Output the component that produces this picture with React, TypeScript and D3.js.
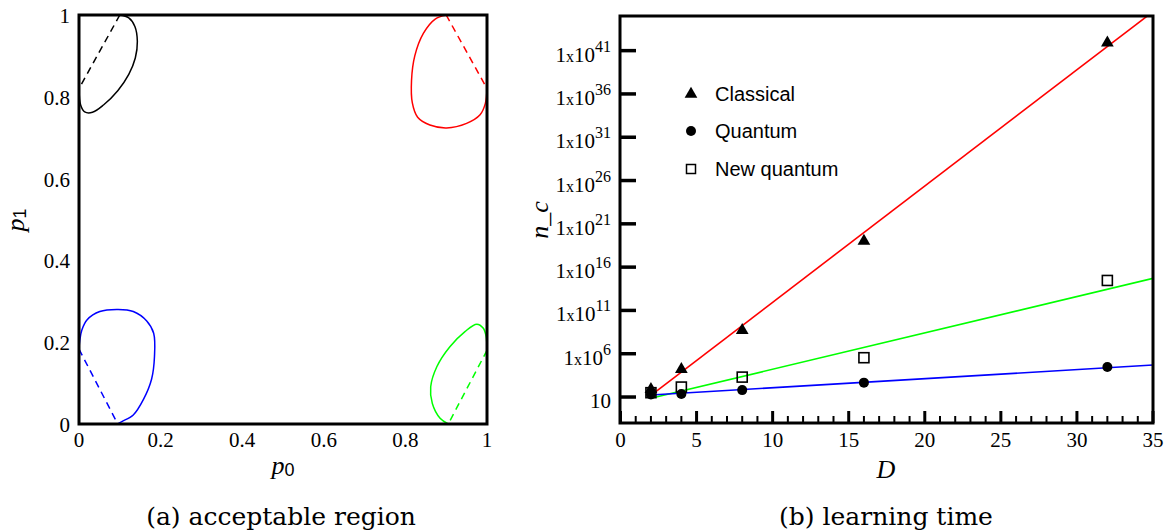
import React, { useEffect, useRef } from "react";
import * as d3 from "d3";

// left panel: acceptable region contours, (p0, p1)
const blackSolid = [[0.1, 1], [0.122, 0.993], [0.137, 0.972], [0.143, 0.935], [0.138, 0.895], [0.122, 0.855], [0.095, 0.815], [0.06, 0.78], [0.033, 0.762], [0.014, 0.763], [0.004, 0.78], [0, 0.82]];
const blackDash = [[0.1, 1], [0, 0.82]];
const redSolid = [[0.9, 1], [0.873, 0.99], [0.844, 0.955], [0.823, 0.9], [0.815, 0.84], [0.817, 0.785], [0.83, 0.75], [0.86, 0.731], [0.901, 0.724], [0.95, 0.735], [0.983, 0.756], [0.996, 0.784], [1, 0.82]];
const redDash = [[0.9, 1], [1, 0.82]];
const blueSolid = [[0.095, 0], [0.105, 0.006], [0.133, 0.022], [0.158, 0.06], [0.178, 0.11], [0.185, 0.165], [0.183, 0.222], [0.166, 0.252], [0.133, 0.275], [0.096, 0.28], [0.051, 0.275], [0.02, 0.255], [0.007, 0.23], [0.002, 0.205], [0, 0.183]];
const blueDash = [[0, 0.183], [0.095, 0]];
const greenSolid = [[0.905, 0], [0.885, 0.014], [0.866, 0.05], [0.862, 0.091], [0.877, 0.14], [0.909, 0.189], [0.946, 0.226], [0.975, 0.244], [0.991, 0.234], [0.998, 0.213], [1, 0.18]];
const greenDash = [[1, 0.18], [0.905, 0]];

const pTicks = [0, 0.2, 0.4, 0.6, 0.8, 1];

// right panel: learning time (log10 of n_c)
const dims = [2, 4, 8, 16, 32];
const classical = [1.9, 4.2, 8.7, 19.0, 41.9];
const quantum = [1.3, 1.35, 1.8, 2.66, 4.46];
const newQuantum = [1.5, 2.15, 3.3, 5.54, 14.46];
const fitD = [2, 35];
const classicalFit = [1.2, 45.5];
const newQuantumFit = [0.85, 14.7];
const quantumFit = [1.23, 4.69];
const yTickExp = [1, 6, 11, 16, 21, 26, 31, 36, 41];
const dTicks = d3.range(0, 36, 1);

export default function App() {
  const ref = useRef<SVGSVGElement>(null);

  useEffect(() => {
    const svg = d3.select(ref.current);
    svg.selectAll("*").remove();
    const serif = "'Liberation Serif', 'DejaVu Serif', serif";
    const wide = "'DejaVu Serif', serif";
    const sans = "'Liberation Sans', Arial, sans-serif";

    // ---------- left panel ----------
    const x0 = d3.scaleLinear().domain([0, 1]).range([79, 487]);
    const y0 = d3.scaleLinear().domain([0, 1]).range([424, 15]);
    const left = svg.append("g");
    const curve = d3.line<number[]>().x(d => x0(d[0])).y(d => y0(d[1])).curve(d3.curveCatmullRom);
    const straight = d3.line<number[]>().x(d => x0(d[0])).y(d => y0(d[1]));
    const shapes: [number[][], number[][], string][] = [
      [blackSolid, blackDash, "#000"],
      [redSolid, redDash, "#ff0000"],
      [blueSolid, blueDash, "#0000ff"],
      [greenSolid, greenDash, "#00ff00"],
    ];
    shapes.forEach(([s, dsh, c]) => {
      left.append("path").attr("d", curve(s)).attr("fill", "none").attr("stroke", c).attr("stroke-width", 1.5);
      left.append("path").attr("d", straight(dsh)).attr("fill", "none").attr("stroke", c)
        .attr("stroke-width", 1.5).attr("stroke-dasharray", "7,5");
    });
    left.append("rect").attr("x", 79).attr("y", 15).attr("width", 408).attr("height", 409)
      .attr("fill", "none").attr("stroke", "#000").attr("stroke-width", 3);
    left.selectAll(".xl").data(pTicks).join("text").attr("x", d => x0(d)).attr("y", 447)
      .attr("text-anchor", "middle").style("font-family", serif).style("font-size", "21px").text(d => String(d));
    left.selectAll(".yl").data(pTicks).join("text").attr("x", 70).attr("y", d => y0(d) + 8)
      .attr("text-anchor", "end").style("font-family", serif).style("font-size", "21px").text(d => String(d));
    const p0 = left.append("text").attr("x", 283).attr("y", 474).attr("text-anchor", "middle")
      .style("font-family", serif).style("font-size", "26px");
    p0.append("tspan").style("font-style", "italic").text("p");
    p0.append("tspan").attr("dy", 2).style("font-family", sans).style("font-size", "18px").text("0");
    const p1 = left.append("text").attr("transform", "translate(24,220) rotate(-90)").attr("text-anchor", "middle")
      .style("font-family", serif).style("font-size", "26px");
    p1.append("tspan").style("font-style", "italic").text("p");
    p1.append("tspan").attr("dy", 2).style("font-family", sans).style("font-size", "18px").text("1");
    left.append("text").attr("x", 281).attr("y", 525).attr("text-anchor", "middle")
      .style("font-family", wide).style("font-size", "25px").text("(a) acceptable region");

    // ---------- right panel ----------
    const xs = d3.scaleLinear().domain([0, 35]).range([620.5, 1153]);
    const ys = d3.scaleLog().domain([1e-2, 1e45]).range([423, 16]);
    const right = svg.append("g");
    right.append("clipPath").attr("id", "clipR").append("rect")
      .attr("x", 620).attr("y", 16).attr("width", 533).attr("height", 407);
    const fits: [number[], string][] = [[classicalFit, "#ff0000"], [newQuantumFit, "#00ff00"], [quantumFit, "#0000ff"]];
    const fitLine = d3.line<number>().x((_, i) => xs(fitD[i])).y(d => ys(Math.pow(10, d)));
    fits.forEach(([f, c]) => {
      right.append("path").attr("d", fitLine(f)).attr("clip-path", "url(#clipR)")
        .attr("fill", "none").attr("stroke", c).attr("stroke-width", 1.6);
    });
    const tri = d3.symbol().type(d3.symbolTriangle).size(70);
    right.selectAll(".tri").data(classical).join("path")
      .attr("transform", (d, i) => `translate(${xs(dims[i])},${ys(Math.pow(10, d))})`)
      .attr("d", tri()).attr("fill", "#000");
    right.selectAll(".circ").data(quantum).join("circle")
      .attr("cx", (d, i) => xs(dims[i])).attr("cy", d => ys(Math.pow(10, d))).attr("r", 5).attr("fill", "#000");
    right.selectAll(".sq").data(newQuantum).join("rect")
      .attr("x", (d, i) => xs(dims[i]) - 5).attr("y", d => ys(Math.pow(10, d)) - 5)
      .attr("width", 10).attr("height", 10).attr("fill", "none").attr("stroke", "#000").attr("stroke-width", 1.6);

    // frame
    right.append("rect").attr("x", 620).attr("y", 16).attr("width", 533).attr("height", 407)
      .attr("fill", "none").attr("stroke", "#000").attr("stroke-width", 3);
    // x ticks
    right.selectAll(".xt").data(dTicks).join("line")
      .attr("x1", d => xs(d)).attr("x2", d => xs(d)).attr("y1", 423)
      .attr("y2", d => (d % 5 === 0 ? 411 : 416)).attr("stroke", "#000").attr("stroke-width", d => (d % 5 === 0 ? 3 : 2));
    right.selectAll(".xtl").data(dTicks.filter(d => d % 5 === 0)).join("text")
      .attr("x", d => xs(d)).attr("y", 447).attr("text-anchor", "middle")
      .style("font-family", serif).style("font-size", "21px").text(d => String(d));
    // y ticks
    right.selectAll(".yt").data(yTickExp).join("line")
      .attr("x1", 620).attr("x2", 636).attr("y1", d => ys(Math.pow(10, d))).attr("y2", d => ys(Math.pow(10, d)))
      .attr("stroke", "#000").attr("stroke-width", 3.5);
    yTickExp.forEach(e => {
      const t = right.append("text").attr("x", 611).attr("y", ys(Math.pow(10, e)) + 11).attr("text-anchor", "end")
        .style("font-family", serif).style("font-size", "21px");
      if (e === 1) { t.text("10"); return; }
      t.append("tspan").text("1");
      t.append("tspan").style("font-size", "16px").text("x");
      t.append("tspan").text("10");
      t.append("tspan").attr("dy", -10).style("font-size", "16px").text(String(e));
    });
    right.append("text").attr("x", 886).attr("y", 478).attr("text-anchor", "middle")
      .style("font-family", serif).style("font-style", "italic").style("font-size", "26px").text("D");
    right.append("text").attr("transform", "translate(548,220) rotate(-90)").attr("text-anchor", "middle")
      .style("font-family", serif).style("font-style", "italic").style("font-size", "26px").text("n_c");
    right.append("text").attr("x", 886).attr("y", 525).attr("text-anchor", "middle")
      .style("font-family", wide).style("font-size", "25px").text("(b) learning time");

    // legend
    const legend = right.append("g");
    legend.append("path").attr("transform", "translate(691,94)").attr("d", tri()).attr("fill", "#000");
    legend.append("circle").attr("cx", 691).attr("cy", 131).attr("r", 5).attr("fill", "#000");
    legend.append("rect").attr("x", 686.5).attr("y", 164.5).attr("width", 9).attr("height", 9)
      .attr("fill", "none").attr("stroke", "#000").attr("stroke-width", 1.5);
    [["Classical", 94], ["Quantum", 131], ["New quantum", 169]].forEach(([t, y]) => {
      legend.append("text").attr("x", 715).attr("y", (y as number) + 7)
        .style("font-family", sans).style("font-size", "20px").text(t as string);
    });
  }, []);

  return (
    <svg ref={ref} width={1167} height={531}
      style={{ position: "absolute", left: 0, top: 0, background: "#fff" }} />
  );
}
